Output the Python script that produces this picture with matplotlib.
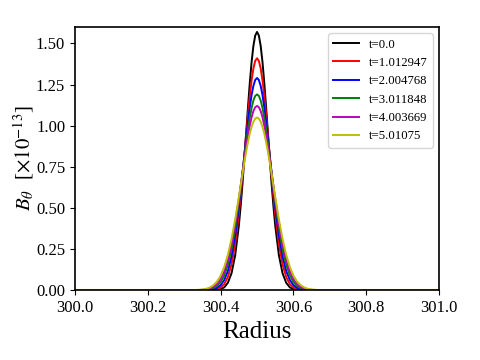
import matplotlib
matplotlib.use("Agg")
import matplotlib.pyplot as plt
from matplotlib.ticker import FormatStrFormatter

plt.rcParams["font.family"] = ["Liberation Serif", "DejaVu Serif"]
plt.rcParams["mathtext.fontset"] = "stix"

# radius samples: sparse on the flanks, denser around the peak
radius = [300.0,
          300.33, 300.34, 300.35, 300.36, 300.37, 300.38, 300.39, 300.40, 300.41, 300.42, 300.43, 300.44, 300.45,
          300.455, 300.46, 300.465, 300.47, 300.475, 300.48, 300.485, 300.49, 300.495,
          300.50,
          300.505, 300.51, 300.515, 300.52, 300.525, 300.53, 300.535, 300.54, 300.545,
          300.55, 300.56, 300.57, 300.58, 300.59, 300.60, 300.61, 300.62, 300.63, 300.64, 300.65, 300.66, 300.67,
          301.0]

labels = ["t=0.0", "t=1.012947", "t=2.004768", "t=3.011848", "t=4.003669", "t=5.01075"]
colors = ["k", "r", "b", "g", "m", "y"]

b_t0 = [0,
        0, 0, 0, 0, 0, 0.000, 0.002, 0.006, 0.017, 0.045, 0.103, 0.212, 0.391,
        0.510, 0.645, 0.795, 0.952, 1.109, 1.257, 1.386, 1.485, 1.548,
        1.570,
        1.548, 1.485, 1.386, 1.257, 1.109, 0.952, 0.795, 0.645, 0.510,
        0.391, 0.212, 0.103, 0.045, 0.017, 0.006, 0.002, 0.000, 0, 0, 0, 0, 0,
        0]
b_t1 = [0,
        0, 0, 0, 0, 0.001, 0.002, 0.006, 0.016, 0.037, 0.080, 0.157, 0.281, 0.460,
        0.569, 0.688, 0.814, 0.942, 1.066, 1.179, 1.275, 1.348, 1.394,
        1.410,
        1.394, 1.348, 1.275, 1.179, 1.066, 0.942, 0.814, 0.688, 0.569,
        0.460, 0.281, 0.157, 0.080, 0.037, 0.016, 0.006, 0.002, 0.001, 0, 0, 0, 0,
        0]
b_t2 = [0,
        0, 0, 0, 0.001, 0.002, 0.006, 0.014, 0.030, 0.062, 0.117, 0.205, 0.334, 0.505,
        0.603, 0.708, 0.815, 0.920, 1.020, 1.110, 1.186, 1.242, 1.278,
        1.290,
        1.278, 1.242, 1.186, 1.110, 1.020, 0.920, 0.815, 0.708, 0.603,
        0.505, 0.334, 0.205, 0.117, 0.062, 0.030, 0.014, 0.006, 0.002, 0.001, 0, 0, 0,
        0]
b_t3 = [0,
        0, 0, 0.001, 0.002, 0.005, 0.012, 0.025, 0.049, 0.090, 0.155, 0.249, 0.378, 0.536,
        0.624, 0.714, 0.805, 0.893, 0.975, 1.047, 1.108, 1.153, 1.181,
        1.190,
        1.181, 1.153, 1.108, 1.047, 0.975, 0.893, 0.805, 0.714, 0.624,
        0.536, 0.378, 0.249, 0.155, 0.090, 0.049, 0.025, 0.012, 0.005, 0.002, 0.001, 0, 0,
        0]
b_t4 = [0,
        0, 0.001, 0.002, 0.004, 0.010, 0.019, 0.037, 0.067, 0.114, 0.184, 0.281, 0.406, 0.553,
        0.633, 0.713, 0.793, 0.869, 0.939, 1.000, 1.051, 1.089, 1.112,
        1.120,
        1.112, 1.089, 1.051, 1.000, 0.939, 0.869, 0.793, 0.713, 0.633,
        0.553, 0.406, 0.281, 0.184, 0.114, 0.067, 0.037, 0.019, 0.010, 0.004, 0.002, 0.001, 0,
        0]
b_t5 = [0,
        0.001, 0.002, 0.004, 0.008, 0.016, 0.030, 0.052, 0.088, 0.141, 0.215, 0.312, 0.430, 0.565,
        0.635, 0.706, 0.775, 0.840, 0.899, 0.951, 0.993, 1.024, 1.043,
        1.050,
        1.043, 1.024, 0.993, 0.951, 0.899, 0.840, 0.775, 0.706, 0.635,
        0.565, 0.430, 0.312, 0.215, 0.141, 0.088, 0.052, 0.030, 0.016, 0.008, 0.004, 0.002, 0.001,
        0]

series = [b_t0, b_t1, b_t2, b_t3, b_t4, b_t5]

fig = plt.figure(figsize=(4.8, 3.6), dpi=100)
ax = fig.add_axes([0.156, 0.194, 0.759, 0.731])
for values, label, color in zip(series, labels, colors):
    ax.plot(radius, values, color=color, linewidth=1.4, label=label)

ax.set_xlim(300.0, 301.0)
ax.set_ylim(0, 1.6)
ax.set_xticks([300.0, 300.2, 300.4, 300.6, 300.8, 301.0])
ax.set_yticks([0.0, 0.25, 0.5, 0.75, 1.0, 1.25, 1.5])
ax.xaxis.set_major_formatter(FormatStrFormatter("%.1f"))
ax.yaxis.set_major_formatter(FormatStrFormatter("%.2f"))
ax.tick_params(labelsize=12)
for spine in ax.spines.values():
    spine.set_linewidth(1.2)

ax.set_xlabel("Radius", fontsize=18)
ax.set_ylabel(r"$B_\theta$  [$\times10^{-13}$]", fontsize=15, labelpad=0)
ax.legend(loc="upper right", fontsize=9.2)

fig.savefig("out.png", dpi=100)
